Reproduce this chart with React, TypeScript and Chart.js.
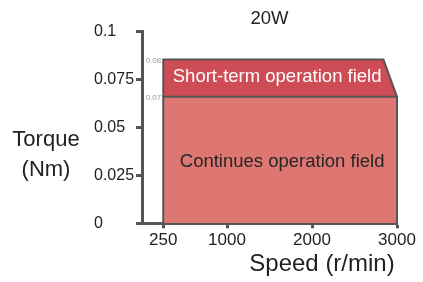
import React, { useEffect, useRef } from "react";
import { Chart, registerables } from "chart.js";

Chart.register(...registerables);

const FONT = "'Liberation Sans', Arial, sans-serif";

const chartTitle = "20W";
const xTitle = "Speed (r/min)";
const yTitleLines = ["Torque", "(Nm)"];

const xTicks = [250, 1000, 2000, 3000];
const yTicks = [0, 0.025, 0.05, 0.075, 0.1];

// Continuous operation field outline (speed, torque)
const contSpeed = [250, 250, 3000, 3000];
const contTorque = [0, 0.066, 0.066, 0];
const contLabel = "Continues operation field";

// Short-term operation field outline (speed, torque)
const shortSpeed = [250, 250, 2840, 3000];
const shortTorque = [0.066, 0.0855, 0.0855, 0.066];
const shortLabel = "Short-term operation field";

// small level annotations
const levelLabels = ["0.08", "0.07"];
const levelValues = [0.0855, 0.066];

const toPts = (xs: number[], ys: number[]) => xs.map((x, i) => ({ x, y: ys[i] }));

const textPlugin = {
  id: "textPlugin",
  afterDraw(chart: any) {
    const { ctx, chartArea, scales } = chart;
    const xs = scales.x;
    const ys = scales.y;
    ctx.save();
    // title
    ctx.fillStyle = "#222";
    ctx.textAlign = "center";
    ctx.textBaseline = "middle";
    ctx.font = `18.5px ${FONT}`;
    ctx.fillText(chartTitle, (chartArea.left + chartArea.right) / 2, 19);
    // y title
    ctx.font = `22px ${FONT}`;
    ctx.fillText(yTitleLines[0], 46, 140);
    ctx.fillText(yTitleLines[1], 46, 170);
    // x title
    ctx.font = `24px ${FONT}`;
    ctx.fillText(xTitle, 322, 264);
    // region labels
    const cx1 = (xs.getPixelForValue(Math.min(...contSpeed)) + xs.getPixelForValue(Math.max(...contSpeed))) / 2;
    const cy1 = (ys.getPixelForValue(Math.min(...contTorque)) + ys.getPixelForValue(Math.max(...contTorque))) / 2;
    ctx.font = `18.5px ${FONT}`;
    ctx.fillStyle = "#262626";
    ctx.fillText(contLabel, cx1 + 2, cy1 + 2);
    const cx2 = (xs.getPixelForValue(Math.min(...shortSpeed)) + xs.getPixelForValue(Math.max(...shortSpeed))) / 2;
    const cy2 = (ys.getPixelForValue(Math.min(...shortTorque)) + ys.getPixelForValue(Math.max(...shortTorque))) / 2;
    ctx.fillStyle = "#ffffff";
    ctx.fillText(shortLabel, cx2 - 3, cy2 - 1);
    // level labels
    ctx.font = `8px ${FONT}`;
    ctx.fillStyle = "#999";
    ctx.textAlign = "right";
    const lx = xs.getPixelForValue(250) - 2;
    levelLabels.forEach((t, i) => {
      ctx.fillText(t, lx, ys.getPixelForValue(levelValues[i]) + 1);
    });
    ctx.restore();
  },
};

export default function App() {
  const ref = useRef<HTMLCanvasElement | null>(null);
  useEffect(() => {
    if (!ref.current) return;
    const chart = new Chart(ref.current, {
      type: "scatter",
      data: {
        datasets: [
          {
            data: toPts(contSpeed, contTorque),
            showLine: true,
            fill: "origin",
            backgroundColor: "#DE7672",
            borderColor: "#555555",
            borderWidth: 2,
            pointRadius: 0,
            clip: false,
          } as any,
          {
            data: toPts(shortSpeed, shortTorque),
            showLine: true,
            fill: { value: 0.066 },
            backgroundColor: "#CE4C55",
            borderColor: "#555555",
            borderWidth: 2,
            pointRadius: 0,
            clip: false,
          } as any,
        ],
      },
      options: {
        responsive: false,
        animation: false,
        layout: { padding: { left: 94, top: 31.7, right: 26, bottom: 0 } },
        plugins: {
          legend: { display: false },
          title: { display: false },
          tooltip: { enabled: false },
        },
        scales: {
          x: {
            type: "linear",
            min: 0,
            max: 3000,
            afterBuildTicks: (s: any) => {
              s.ticks = xTicks.map((v) => ({ value: v }));
            },
            afterFit: (s: any) => {
              s.height = 58.7;
            },
            ticks: {
              color: "#222",
              font: { family: FONT, size: 17 },
              padding: 2,
              maxRotation: 0,
              autoSkip: false,
              callback: (v: any) => String(v),
            },
            grid: {
              display: true,
              drawOnChartArea: false,
              drawTicks: true,
              tickLength: 5,
              tickWidth: 3,
              tickColor: "#555",
            },
            border: { display: true, color: "#555", width: 3 },
          },
          y: {
            type: "linear",
            min: 0,
            max: 0.1,
            afterBuildTicks: (s: any) => {
              s.ticks = yTicks.map((v) => ({ value: v }));
            },
            afterFit: (s: any) => {
              s.width = 48;
            },
            ticks: {
              color: "#222",
              font: { family: FONT, size: 16 },
              crossAlign: "far",
              callback: (v: any) => String(v),
            },
            grid: {
              display: true,
              drawOnChartArea: false,
              drawTicks: true,
              tickLength: 6,
              tickWidth: 3,
              tickColor: "#555",
            },
            border: { display: true, color: "#555", width: 3 },
          },
        },
      },
      plugins: [textPlugin],
    });
    return () => chart.destroy();
  }, []);
  return (
    <div style={{ position: "fixed", left: 0, top: 0, width: 423, height: 282, background: "#fff" }}>
      <canvas ref={ref} width={423} height={282} style={{ display: "block" }} />
    </div>
  );
}
